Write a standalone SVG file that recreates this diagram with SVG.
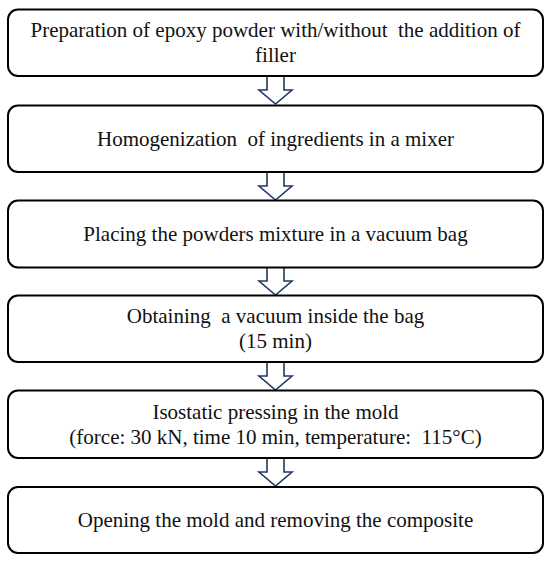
<svg xmlns="http://www.w3.org/2000/svg" width="550" height="561" viewBox="0 0 550 561">
<style>
.box{fill:#fff;stroke:#000;stroke-width:2}
.t{font-family:"Liberation Serif","Times New Roman",serif;font-size:21px;fill:#111;text-anchor:middle;white-space:pre}
.arr{fill:#fff;stroke:#1f3864;stroke-width:1.6;stroke-linejoin:miter}
</style>
<rect width="550" height="561" fill="#fff"/>
<g id="connectors">
<path class="arr" d="M267,76 V90 H259 L275.5,104 L292,90 H284 V76"/>
<path class="arr" d="M267,172 V186 H259 L275.5,200 L292,186 H284 V172"/>
<path class="arr" d="M267,267 V281 H259 L275.5,295 L292,281 H284 V267"/>
<path class="arr" d="M267,362 V376 H259 L275.5,390 L292,376 H284 V362"/>
<path class="arr" d="M267,458 V472 H259 L275.5,486 L292,472 H284 V458"/>
</g>
<g id="step1">
<rect class="box" x="8" y="9.5" width="535" height="66.5" rx="10"/>
<text class="t" x="275.5" y="37">Preparation of epoxy powder with/without  the addition of</text>
<text class="t" x="275.5" y="62">filler</text>
</g>
<g id="step2">
<rect class="box" x="8" y="105.5" width="535" height="66.5" rx="10"/>
<text class="t" x="275.5" y="146">Homogenization  of ingredients in a mixer</text>
</g>
<g id="step3">
<rect class="box" x="8" y="200.5" width="535" height="67" rx="10"/>
<text class="t" x="275.5" y="241">Placing the powders mixture in a vacuum bag</text>
</g>
<g id="step4">
<rect class="box" x="8" y="295.5" width="535" height="66.5" rx="10"/>
<text class="t" x="275.5" y="323">Obtaining  a vacuum inside the bag</text>
<text class="t" x="275.5" y="348">(15 min)</text>
</g>
<g id="step5">
<rect class="box" x="8" y="390.5" width="535" height="67.5" rx="10"/>
<text class="t" x="275.5" y="419">Isostatic pressing in the mold</text>
<text class="t" x="275.5" y="444">(force: 30 kN, time 10 min, temperature:  115°C)</text>
</g>
<g id="step6">
<rect class="box" x="8" y="487" width="535" height="66" rx="10"/>
<text class="t" x="275.5" y="527">Opening the mold and removing the composite</text>
</g>
</svg>
